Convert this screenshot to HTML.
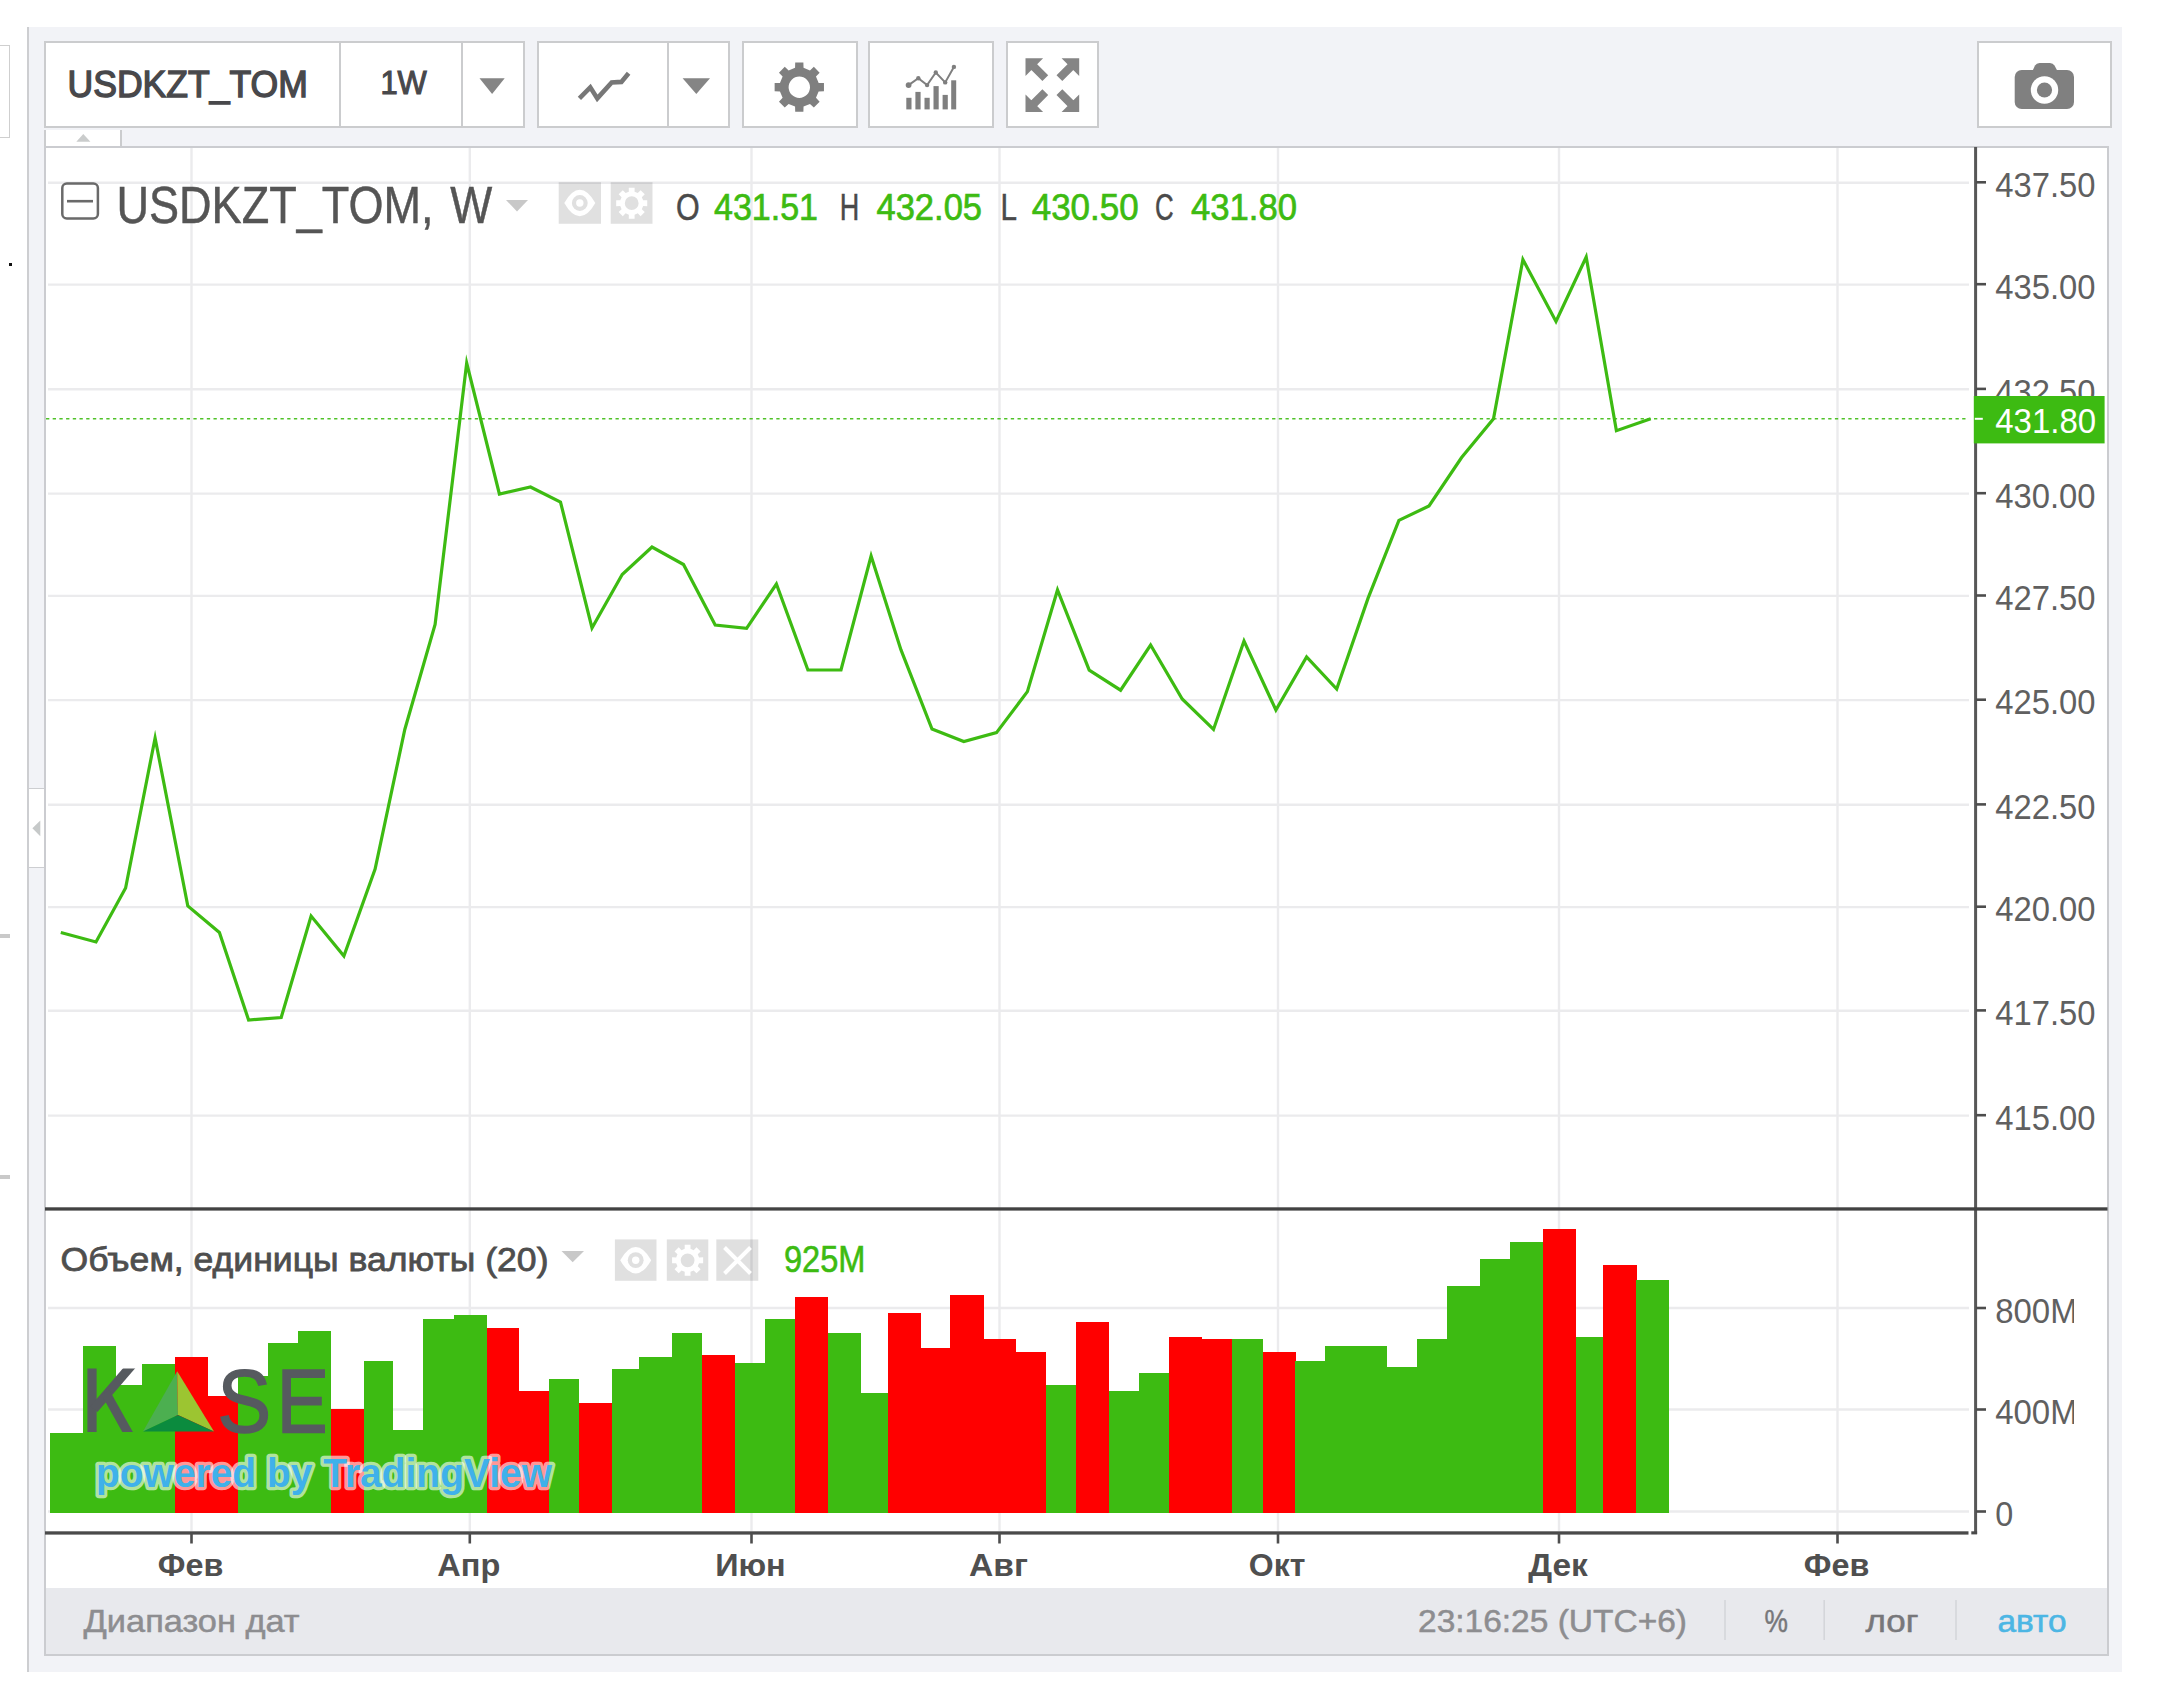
<!DOCTYPE html>
<html lang="ru">
<head>
<meta charset="utf-8">
<title>USDKZT_TOM</title>
<style>
html, body { margin:0; padding:0; background:#ffffff; }
body { width:2160px; height:1683px; position:relative; overflow:hidden; font-family:"Liberation Sans", sans-serif; }
.abs { position:absolute; box-sizing:border-box; }
.panel { left:26.5px; top:26.5px; width:2095.5px; height:1645.5px; background:#f2f3f7; border-left:2px solid #cdced1; }
.btn { top:40.5px; height:87.6px; background:#ffffff; border:2px solid #cbccce; }
.div { top:41px; width:2px; height:86px; background:#cbccce; }
.chart { left:44.3px; top:146.1px; width:2064.5px; height:1509.7px; background:#ffffff; border:2px solid #cbccd0; }
.bbar { left:46px; top:1588px; width:2061px; height:66px; background:#e8e9ed; }
svg text { font-family:"Liberation Sans", sans-serif; }
</style>
</head>
<body>
<!-- left cropped widgets -->
<div class="abs" style="left:-4px; top:44.5px; width:14.2px; height:93px; border:1.6px solid #cfcfcf; background:#fff;"></div>
<div class="abs" style="left:9px; top:262.5px; width:3px; height:3px; background:#111;"></div>
<div class="abs" style="left:0; top:934.2px; width:10.3px; height:3.6px; background:#c9c9c9;"></div>
<div class="abs" style="left:0; top:1175px; width:10.3px; height:3.6px; background:#c9c9c9;"></div>

<div class="abs panel"></div>

<!-- toolbar -->
<div class="abs btn" style="left:44.2px; width:480.9px;"></div>
<div class="abs div" style="left:339.4px;"></div>
<div class="abs div" style="left:461.3px;"></div>
<div class="abs btn" style="left:536.8px; width:193.6px;"></div>
<div class="abs div" style="left:666.6px;"></div>
<div class="abs btn" style="left:742.2px; width:115.9px;"></div>
<div class="abs btn" style="left:868.1px; width:125.6px;"></div>
<div class="abs btn" style="left:1005.6px; width:93.7px;"></div>
<div class="abs btn" style="left:1976.9px; width:135.5px;"></div>

<!-- collapse tab + side handle -->
<div class="abs" style="left:44.3px; top:130px; width:78px; height:18px; background:#fff; border-right:2px solid #cbccce; border-left:2px solid #cbccce;"></div>
<div class="abs" style="left:28.5px; top:788.2px; width:16px; height:79.8px; background:#fff; border-top:1.9px solid #cdced1; border-bottom:1.9px solid #cdced1;"></div>

<div class="abs chart"></div>
<div class="abs bbar"></div>


<svg class="abs" style="left:0; top:0;" width="2160" height="1683" viewBox="0 0 2160 1683">
<defs>
<clipPath id="volclip"><rect x="1980" y="1280" width="94" height="260"/></clipPath>
</defs>
<!-- grid -->
<g stroke="#ebebed" stroke-width="2.4" fill="none">
<line x1="191.5" y1="148" x2="191.5" y2="1531" />
<line x1="469.8" y1="148" x2="469.8" y2="1531" />
<line x1="751.5" y1="148" x2="751.5" y2="1531" />
<line x1="999.5" y1="148" x2="999.5" y2="1531" />
<line x1="1278.0" y1="148" x2="1278.0" y2="1531" />
<line x1="1559.0" y1="148" x2="1559.0" y2="1531" />
<line x1="1837.5" y1="148" x2="1837.5" y2="1531" />
<line x1="48" y1="182.7" x2="1969" y2="182.7" />
<line x1="48" y1="284.6" x2="1969" y2="284.6" />
<line x1="48" y1="389.3" x2="1969" y2="389.3" />
<line x1="48" y1="493.6" x2="1969" y2="493.6" />
<line x1="48" y1="595.9" x2="1969" y2="595.9" />
<line x1="48" y1="700.1" x2="1969" y2="700.1" />
<line x1="48" y1="804.8" x2="1969" y2="804.8" />
<line x1="48" y1="907.1" x2="1969" y2="907.1" />
<line x1="48" y1="1010.8" x2="1969" y2="1010.8" />
<line x1="48" y1="1115.6" x2="1969" y2="1115.6" />
<line x1="48" y1="1308.0" x2="1969" y2="1308.0" />
<line x1="48" y1="1409.5" x2="1969" y2="1409.5" />
<line x1="48" y1="1511.5" x2="1969" y2="1511.5" />
</g>
<!-- volume bars -->
<g shape-rendering="crispEdges">
<rect x="49.9" y="1432.8" width="33.2" height="80.4" fill="#3dbb12"/>
<rect x="82.8" y="1345.6" width="33.2" height="167.6" fill="#3dbb12"/>
<rect x="115.7" y="1384.5" width="26.8" height="128.7" fill="#3dbb12"/>
<rect x="142.2" y="1364.1" width="32.8" height="149.1" fill="#3dbb12"/>
<rect x="174.7" y="1357.1" width="33.2" height="156.1" fill="#ff0000"/>
<rect x="207.6" y="1396.4" width="30.5" height="116.8" fill="#ff0000"/>
<rect x="237.8" y="1376.0" width="30.5" height="137.2" fill="#3dbb12"/>
<rect x="268.0" y="1342.8" width="30.3" height="170.4" fill="#3dbb12"/>
<rect x="298.0" y="1331.1" width="33.2" height="182.1" fill="#3dbb12"/>
<rect x="330.9" y="1409.2" width="33.0" height="104.0" fill="#ff0000"/>
<rect x="363.6" y="1360.7" width="29.8" height="152.5" fill="#3dbb12"/>
<rect x="393.1" y="1429.5" width="30.4" height="83.7" fill="#3dbb12"/>
<rect x="423.2" y="1319.3" width="30.6" height="193.9" fill="#3dbb12"/>
<rect x="453.5" y="1315.4" width="33.3" height="197.8" fill="#3dbb12"/>
<rect x="486.5" y="1327.6" width="32.7" height="185.6" fill="#ff0000"/>
<rect x="518.9" y="1390.6" width="30.1" height="122.6" fill="#ff0000"/>
<rect x="548.7" y="1378.8" width="30.4" height="134.4" fill="#3dbb12"/>
<rect x="578.8" y="1402.8" width="33.4" height="110.4" fill="#ff0000"/>
<rect x="611.9" y="1369.1" width="27.5" height="144.1" fill="#3dbb12"/>
<rect x="639.1" y="1357.4" width="32.7" height="155.8" fill="#3dbb12"/>
<rect x="671.5" y="1333.3" width="30.9" height="179.9" fill="#3dbb12"/>
<rect x="702.1" y="1354.8" width="33.2" height="158.4" fill="#ff0000"/>
<rect x="735.0" y="1363.4" width="30.1" height="149.8" fill="#3dbb12"/>
<rect x="764.8" y="1319.0" width="30.1" height="194.2" fill="#3dbb12"/>
<rect x="794.6" y="1297.3" width="33.5" height="215.9" fill="#ff0000"/>
<rect x="827.8" y="1333.3" width="33.3" height="179.9" fill="#3dbb12"/>
<rect x="860.8" y="1393.2" width="27.5" height="120.0" fill="#3dbb12"/>
<rect x="888.0" y="1312.8" width="32.7" height="200.4" fill="#ff0000"/>
<rect x="920.4" y="1348.3" width="30.1" height="164.9" fill="#ff0000"/>
<rect x="950.2" y="1295.2" width="34.0" height="218.0" fill="#ff0000"/>
<rect x="983.9" y="1339.3" width="32.2" height="173.9" fill="#ff0000"/>
<rect x="1015.8" y="1351.7" width="30.1" height="161.5" fill="#ff0000"/>
<rect x="1045.6" y="1384.6" width="30.7" height="128.6" fill="#3dbb12"/>
<rect x="1076.0" y="1321.6" width="33.3" height="191.6" fill="#ff0000"/>
<rect x="1109.0" y="1390.7" width="30.1" height="122.5" fill="#3dbb12"/>
<rect x="1138.8" y="1373.0" width="30.5" height="140.2" fill="#3dbb12"/>
<rect x="1169.0" y="1337.1" width="33.3" height="176.1" fill="#ff0000"/>
<rect x="1202.0" y="1339.1" width="29.9" height="174.1" fill="#ff0000"/>
<rect x="1231.6" y="1339.1" width="31.7" height="174.1" fill="#3dbb12"/>
<rect x="1263.0" y="1351.5" width="32.6" height="161.7" fill="#ff0000"/>
<rect x="1295.3" y="1360.6" width="29.5" height="152.6" fill="#3dbb12"/>
<rect x="1324.5" y="1345.7" width="31.3" height="167.5" fill="#3dbb12"/>
<rect x="1355.5" y="1345.7" width="31.9" height="167.5" fill="#3dbb12"/>
<rect x="1387.1" y="1367.0" width="30.5" height="146.2" fill="#3dbb12"/>
<rect x="1417.3" y="1339.1" width="30.4" height="174.1" fill="#3dbb12"/>
<rect x="1447.4" y="1286.0" width="32.7" height="227.2" fill="#3dbb12"/>
<rect x="1479.8" y="1259.3" width="30.2" height="253.9" fill="#3dbb12"/>
<rect x="1509.7" y="1241.5" width="33.3" height="271.7" fill="#3dbb12"/>
<rect x="1542.7" y="1229.2" width="33.6" height="284.0" fill="#ff0000"/>
<rect x="1576.0" y="1337.1" width="27.3" height="176.1" fill="#3dbb12"/>
<rect x="1603.0" y="1265.3" width="33.6" height="247.9" fill="#ff0000"/>
<rect x="1636.3" y="1279.7" width="32.5" height="233.5" fill="#3dbb12"/>
</g>
<!-- last price line -->
<line x1="46" y1="418.7" x2="1968" y2="418.7" stroke="#3dbb12" stroke-width="1.4" stroke-dasharray="3.3 3.4" stroke-opacity="0.9"/>
<!-- series -->
<polyline points="60.8,932.5 96.0,942.0 125.6,888.0 155.1,738.0 187.8,906.0 219.4,932.5 248.6,1020.0 281.2,1017.5 311.1,916.0 343.9,956.0 375.1,869.0 404.8,729.5 435.1,624.5 466.7,363.0 499.4,494.0 530.5,487.0 560.5,502.0 592.0,628.0 622.2,574.5 652.0,547.0 683.5,564.5 715.2,625.0 746.6,628.3 776.4,584.0 807.9,670.0 841.0,670.0 871.1,556.0 900.9,649.7 932.0,729.0 963.8,741.5 996.5,732.6 1027.4,691.6 1057.5,590.0 1089.2,670.2 1120.6,690.2 1150.6,645.0 1182.2,699.0 1213.5,729.4 1244.0,641.0 1275.9,710.0 1306.6,657.0 1336.7,689.0 1368.0,598.4 1398.9,520.3 1429.0,506.0 1461.6,457.5 1493.5,418.7 1522.9,259.5 1556.0,321.5 1586.2,257.0 1616.4,430.7 1650.7,418.7" fill="none" stroke="#3dbb12" stroke-width="3.2" stroke-linejoin="miter" stroke-miterlimit="10"/>

<!-- axes -->
<rect x="1974.1" y="147" width="3.0" height="1387" fill="#575757"/>
<rect x="45" y="1207.3" width="2062.5" height="3.3" fill="#424242"/>
<rect x="45" y="1531.3" width="1923.5" height="3.3" fill="#4a4a4a"/>
<rect x="1971.3" y="1531.3" width="5.8" height="3.1" fill="#4a4a4a"/>
<g stroke="#4d4d4d" stroke-width="2.6">
<line x1="1976" y1="182.3" x2="1986" y2="182.3"/>
<line x1="1976" y1="284.2" x2="1986" y2="284.2"/>
<line x1="1976" y1="388.9" x2="1986" y2="388.9"/>
<line x1="1976" y1="493.2" x2="1986" y2="493.2"/>
<line x1="1976" y1="595.5" x2="1986" y2="595.5"/>
<line x1="1976" y1="699.7" x2="1986" y2="699.7"/>
<line x1="1976" y1="804.4" x2="1986" y2="804.4"/>
<line x1="1976" y1="906.7" x2="1986" y2="906.7"/>
<line x1="1976" y1="1010.4" x2="1986" y2="1010.4"/>
<line x1="1976" y1="1115.2" x2="1986" y2="1115.2"/>
<line x1="1976" y1="1308.0" x2="1986" y2="1308.0"/>
<line x1="1976" y1="1409.5" x2="1986" y2="1409.5"/>
<line x1="1976" y1="1511.5" x2="1986" y2="1511.5"/>
<line x1="191.5" y1="1533" x2="191.5" y2="1543.5"/>
<line x1="469.8" y1="1533" x2="469.8" y2="1543.5"/>
<line x1="751.5" y1="1533" x2="751.5" y2="1543.5"/>
<line x1="999.5" y1="1533" x2="999.5" y2="1543.5"/>
<line x1="1278.0" y1="1533" x2="1278.0" y2="1543.5"/>
<line x1="1559.0" y1="1533" x2="1559.0" y2="1543.5"/>
<line x1="1837.5" y1="1533" x2="1837.5" y2="1543.5"/>
</g>

<!-- texts -->
<text x="67.6" y="97.2" font-size="37.3" fill="#48484b" font-weight="normal" textLength="240.2" lengthAdjust="spacingAndGlyphs" stroke="#48484b" stroke-width="1.4">USDKZT_TOM</text>
<text x="380.4" y="93.8" font-size="32.5" fill="#48484b" font-weight="normal" textLength="46.4" lengthAdjust="spacingAndGlyphs" stroke="#48484b" stroke-width="1.1">1W</text>
<text x="116.5" y="223.2" font-size="52" fill="#555555" font-weight="normal" textLength="317.0" lengthAdjust="spacingAndGlyphs" stroke="#555555" stroke-width="0.5">USDKZT_TOM,</text>
<text x="450.3" y="223.2" font-size="52" fill="#555555" font-weight="normal" textLength="42.0" lengthAdjust="spacingAndGlyphs" stroke="#555555" stroke-width="0.5">W</text>
<text x="676.0" y="219.6" font-size="36.5" fill="#4a4a4a" font-weight="normal" textLength="23.7" lengthAdjust="spacingAndGlyphs" stroke="#4a4a4a" stroke-width="0.5">O</text>
<text x="714.0" y="219.6" font-size="36.5" fill="#3dbb12" font-weight="normal" textLength="104.0" lengthAdjust="spacingAndGlyphs" stroke="#3dbb12" stroke-width="0.7">431.51</text>
<text x="839.7" y="219.6" font-size="36.5" fill="#4a4a4a" font-weight="normal" textLength="19.5" lengthAdjust="spacingAndGlyphs" stroke="#4a4a4a" stroke-width="0.5">H</text>
<text x="876.5" y="219.6" font-size="36.5" fill="#3dbb12" font-weight="normal" textLength="105.5" lengthAdjust="spacingAndGlyphs" stroke="#3dbb12" stroke-width="0.7">432.05</text>
<text x="1000.5" y="219.6" font-size="36.5" fill="#4a4a4a" font-weight="normal" textLength="16.5" lengthAdjust="spacingAndGlyphs" stroke="#4a4a4a" stroke-width="0.5">L</text>
<text x="1031.7" y="219.6" font-size="36.5" fill="#3dbb12" font-weight="normal" textLength="107.0" lengthAdjust="spacingAndGlyphs" stroke="#3dbb12" stroke-width="0.7">430.50</text>
<text x="1155.0" y="219.6" font-size="36.5" fill="#4a4a4a" font-weight="normal" textLength="18.6" lengthAdjust="spacingAndGlyphs" stroke="#4a4a4a" stroke-width="0.5">C</text>
<text x="1191.0" y="219.6" font-size="36.5" fill="#3dbb12" font-weight="normal" textLength="106.0" lengthAdjust="spacingAndGlyphs" stroke="#3dbb12" stroke-width="0.7">431.80</text>
<text x="1995.2" y="197.0" font-size="35" fill="#606060" font-weight="normal" textLength="100.3" lengthAdjust="spacingAndGlyphs">437.50</text>
<text x="1995.2" y="298.9" font-size="35" fill="#606060" font-weight="normal" textLength="100.3" lengthAdjust="spacingAndGlyphs">435.00</text>
<text x="1995.2" y="403.6" font-size="35" fill="#606060" font-weight="normal" textLength="100.3" lengthAdjust="spacingAndGlyphs">432.50</text>
<text x="1995.2" y="507.9" font-size="35" fill="#606060" font-weight="normal" textLength="100.3" lengthAdjust="spacingAndGlyphs">430.00</text>
<text x="1995.2" y="610.2" font-size="35" fill="#606060" font-weight="normal" textLength="100.3" lengthAdjust="spacingAndGlyphs">427.50</text>
<text x="1995.2" y="714.4" font-size="35" fill="#606060" font-weight="normal" textLength="100.3" lengthAdjust="spacingAndGlyphs">425.00</text>
<text x="1995.2" y="819.1" font-size="35" fill="#606060" font-weight="normal" textLength="100.3" lengthAdjust="spacingAndGlyphs">422.50</text>
<text x="1995.2" y="921.4" font-size="35" fill="#606060" font-weight="normal" textLength="100.3" lengthAdjust="spacingAndGlyphs">420.00</text>
<text x="1995.2" y="1025.1" font-size="35" fill="#606060" font-weight="normal" textLength="100.3" lengthAdjust="spacingAndGlyphs">417.50</text>
<text x="1995.2" y="1129.9" font-size="35" fill="#606060" font-weight="normal" textLength="100.3" lengthAdjust="spacingAndGlyphs">415.00</text>
<text x="60.5" y="1270.9" font-size="34" fill="#4e4e4e" font-weight="normal" textLength="488.0" lengthAdjust="spacingAndGlyphs" stroke="#4e4e4e" stroke-width="0.8">Объем, единицы валюты (20)</text>
<text x="784.0" y="1272.3" font-size="36.5" fill="#3dbb12" font-weight="normal" textLength="81.5" lengthAdjust="spacingAndGlyphs" stroke="#3dbb12" stroke-width="0.6">925M</text>
<text x="157.8" y="1575.5" font-size="31" fill="#4f4f4f" font-weight="bold" textLength="65.5" lengthAdjust="spacingAndGlyphs">Фев</text>
<text x="437.3" y="1575.5" font-size="31" fill="#4f4f4f" font-weight="bold" textLength="63.0" lengthAdjust="spacingAndGlyphs">Апр</text>
<text x="715.2" y="1575.5" font-size="31" fill="#4f4f4f" font-weight="bold" textLength="70.5" lengthAdjust="spacingAndGlyphs">Июн</text>
<text x="969.0" y="1575.5" font-size="31" fill="#4f4f4f" font-weight="bold" textLength="59.0" lengthAdjust="spacingAndGlyphs">Авг</text>
<text x="1248.8" y="1575.5" font-size="31" fill="#4f4f4f" font-weight="bold" textLength="56.5" lengthAdjust="spacingAndGlyphs">Окт</text>
<text x="1528.2" y="1575.5" font-size="31" fill="#4f4f4f" font-weight="bold" textLength="59.6" lengthAdjust="spacingAndGlyphs">Дек</text>
<text x="1803.8" y="1575.5" font-size="31" fill="#4f4f4f" font-weight="bold" textLength="65.5" lengthAdjust="spacingAndGlyphs">Фев</text>
<text x="83.6" y="1632.0" font-size="32" fill="#8d8d90" font-weight="normal" textLength="216.0" lengthAdjust="spacingAndGlyphs" stroke="#8d8d90" stroke-width="0.5">Диапазон дат</text>
<text x="1418.0" y="1632.0" font-size="32" fill="#8d8d90" font-weight="normal" textLength="269.0" lengthAdjust="spacingAndGlyphs" stroke="#8d8d90" stroke-width="0.5">23:16:25 (UTC+6)</text>
<text x="1764.6" y="1632.0" font-size="32" fill="#77777a" font-weight="normal" textLength="23.4" lengthAdjust="spacingAndGlyphs" stroke="#77777a" stroke-width="0.5">%</text>
<text x="1865.5" y="1632.0" font-size="32" fill="#77777a" font-weight="normal" textLength="53.0" lengthAdjust="spacingAndGlyphs" stroke="#77777a" stroke-width="0.5">лог</text>
<text x="1997.5" y="1632.0" font-size="32" fill="#4cb6e4" font-weight="normal" textLength="69.0" lengthAdjust="spacingAndGlyphs" stroke="#4cb6e4" stroke-width="0.6">авто</text>
<g clip-path="url(#volclip)">
<text x="1995.2" y="1322.5" font-size="35" fill="#606060" font-weight="normal" textLength="82.5" lengthAdjust="spacingAndGlyphs">800M</text>
<text x="1995.2" y="1424.0" font-size="35" fill="#606060" font-weight="normal" textLength="82.5" lengthAdjust="spacingAndGlyphs">400M</text>
<text x="1995.2" y="1526.0" font-size="35" fill="#606060" font-weight="normal" textLength="18.0" lengthAdjust="spacingAndGlyphs">0</text>
</g>

<!-- price label -->
<rect x="1973.8" y="396" width="130.8" height="47.4" fill="#3dbb12"/>
<line x1="1974.8" y1="418.8" x2="1982.8" y2="418.8" stroke="#ffffff" stroke-width="2"/>
<text x="1995.2" y="432.6" font-size="35" fill="#ffffff" font-weight="normal" textLength="101.0" lengthAdjust="spacingAndGlyphs">431.80</text>


<!-- toolbar icons -->
<path d="M479.5,78.3 L504.7,78.3 L492.1,94 Z" fill="#858585"/>
<path d="M682.6,78.3 L710,78.3 L696.3,94 Z" fill="#858585"/>
<polyline points="579.4,98.3 590.3,87.3 597.3,98.4 611.7,82.4 621.4,81.9 628.6,73.2" fill="none" stroke="#777777" stroke-width="4.6" stroke-linejoin="miter"/>
<path d="M818.64,82.96 L823.96,83.11 L823.96,91.29 L818.64,91.44 L815.98,97.87 L819.63,101.75 L813.85,107.53 L809.97,103.88 L803.54,106.54 L803.39,111.86 L795.21,111.86 L795.06,106.54 L788.63,103.88 L784.75,107.53 L778.97,101.75 L782.62,97.87 L779.96,91.44 L774.64,91.29 L774.64,83.11 L779.96,82.96 L782.62,76.53 L778.97,72.65 L784.75,66.87 L788.63,70.52 L795.06,67.86 L795.21,62.54 L803.39,62.54 L803.54,67.86 L809.97,70.52 L813.85,66.87 L819.63,72.65 L815.98,76.53Z M810.00,87.20 A10.7,10.7 0 1,0 788.60,87.20 A10.7,10.7 0 1,0 810.00,87.20Z" fill="#7f7f7f" fill-rule="evenodd"/>
<!-- indicators icon -->
<g fill="#7f7f7f">
<rect x="906.3" y="97.8" width="5.2" height="11.6"/>
<rect x="915.4" y="91.9" width="5.2" height="17.5"/>
<rect x="924.5" y="97.8" width="5.2" height="11.6"/>
<rect x="933.5" y="86.1" width="5.2" height="23.3"/>
<rect x="942.6" y="94.9" width="5.2" height="14.5"/>
<rect x="951.2" y="80.3" width="5.0" height="29.1"/>
<circle cx="908.6" cy="85.1" r="2.9"/><circle cx="918.3" cy="78.3" r="2.2"/><circle cx="927.1" cy="85.1" r="2.2"/>
<circle cx="935.8" cy="72.5" r="2.2"/><circle cx="945.2" cy="82.4" r="2.2"/><circle cx="953.9" cy="66.9" r="2.2"/>
</g>
<polyline points="908.6,85.1 918.3,78.3 927.1,85.1 935.8,72.5 945.2,82.4 953.9,66.9" fill="none" stroke="#7f7f7f" stroke-width="2.0"/>
<!-- fullscreen -->
<path d="M1025.5,58.3 L1043.1,58.3 L1025.5,75.9Z M1034.4,61.4 L1048.2,75.2 L1042.4,81.0 L1028.6,67.2Z M1079.2,58.3 L1061.6000000000001,58.3 L1079.2,75.9Z M1070.3,61.4 L1056.5,75.2 L1062.3,81.0 L1076.1,67.2Z M1025.5,112.0 L1043.1,112.0 L1025.5,94.4Z M1034.4,108.9 L1048.2,95.1 L1042.4,89.3 L1028.6,103.1Z M1079.2,112.0 L1061.6000000000001,112.0 L1079.2,94.4Z M1070.3,108.9 L1056.5,95.1 L1062.3,89.3 L1076.1,103.1Z" fill="#858585"/>
<!-- camera -->
<g fill="#808080">
<rect x="2014.7" y="70" width="59.3" height="39" rx="7" ry="7"/>
<path d="M2031,74 L2035,65.5 Q2036.5,63 2039.5,63 L2050,63 Q2053,63 2054.5,65.5 L2059,74 Z"/>
</g>
<circle cx="2044.5" cy="90" r="13.7" fill="#ffffff"/>
<circle cx="2044.5" cy="90" r="7.6" fill="#808080"/>

<!-- tab arrow + handle arrow -->
<path d="M76.3,141.8 L90.4,141.8 L83.3,133.9 Z" fill="#cacccc"/>
<path d="M40.3,820.4 L40.3,836.2 L32.4,828.3 Z" fill="#c6c9c9"/>

<!-- legend icons (main) -->
<rect x="62.3" y="183.6" width="35.6" height="34.8" rx="4.5" ry="4.5" fill="none" stroke="#6a6a6a" stroke-width="2.5"/>
<line x1="67" y1="201.2" x2="93" y2="201.2" stroke="#6a6a6a" stroke-width="2.6"/>
<path d="M506,200 L528,200 L517,211.5 Z" fill="#c8c8c8"/>
<rect x="558.7" y="182.2" width="42.3" height="41.6" fill="#000000" fill-opacity="0.122"/>
<rect x="610.7" y="182.2" width="41.8" height="41.6" fill="#000000" fill-opacity="0.122"/>
<path d="M564.3,203.0 Q571.74,189.8 579.8,189.8 Q587.8599999999999,189.8 595.3,203.0 Q587.8599999999999,216.2 579.8,216.2 Q571.74,216.2 564.3,203.0 Z" fill="#ffffff"/><circle cx="579.8" cy="203.0" r="7.9" fill="#e0e0e0"/><circle cx="579.8" cy="203.0" r="3.7" fill="#ffffff"/>
<path d="M643.15,200.33 L647.23,200.27 L647.23,206.13 L643.15,206.07 L641.82,209.27 L644.75,212.11 L640.61,216.25 L637.77,213.32 L634.57,214.65 L634.63,218.73 L628.77,218.73 L628.83,214.65 L625.63,213.32 L622.79,216.25 L618.65,212.11 L621.58,209.27 L620.25,206.07 L616.17,206.13 L616.17,200.27 L620.25,200.33 L621.58,197.13 L618.65,194.29 L622.79,190.15 L625.63,193.08 L628.83,191.75 L628.77,187.67 L634.63,187.67 L634.57,191.75 L637.77,193.08 L640.61,190.15 L644.75,194.29 L641.82,197.13Z M638.60,203.20 A6.9,6.9 0 1,0 624.80,203.20 A6.9,6.9 0 1,0 638.60,203.20Z" fill="#ffffff" fill-rule="evenodd"/>

<!-- legend icons (volume) -->
<path d="M561.5,1251 L584,1251 L572.7,1262.3 Z" fill="#c8c8c8"/>
<rect x="614.9" y="1239.4" width="41.6" height="41.4" fill="#000000" fill-opacity="0.122"/>
<rect x="666.8" y="1239.4" width="41.5" height="41.4" fill="#000000" fill-opacity="0.122"/>
<rect x="716.3" y="1239.4" width="42" height="41.4" fill="#000000" fill-opacity="0.122"/>
<path d="M620.2,1260.2 Q627.6400000000001,1247.0 635.7,1247.0 Q643.76,1247.0 651.2,1260.2 Q643.76,1273.4 635.7,1273.4 Q627.6400000000001,1273.4 620.2,1260.2 Z" fill="#ffffff"/><circle cx="635.7" cy="1260.2" r="7.9" fill="#e0e0e0"/><circle cx="635.7" cy="1260.2" r="3.7" fill="#ffffff"/>
<path d="M699.05,1257.43 L703.13,1257.37 L703.13,1263.23 L699.05,1263.17 L697.72,1266.37 L700.65,1269.21 L696.51,1273.35 L693.67,1270.42 L690.47,1271.75 L690.53,1275.83 L684.67,1275.83 L684.73,1271.75 L681.53,1270.42 L678.69,1273.35 L674.55,1269.21 L677.48,1266.37 L676.15,1263.17 L672.07,1263.23 L672.07,1257.37 L676.15,1257.43 L677.48,1254.23 L674.55,1251.39 L678.69,1247.25 L681.53,1250.18 L684.73,1248.85 L684.67,1244.77 L690.53,1244.77 L690.47,1248.85 L693.67,1250.18 L696.51,1247.25 L700.65,1251.39 L697.72,1254.23Z M694.50,1260.30 A6.9,6.9 0 1,0 680.70,1260.30 A6.9,6.9 0 1,0 694.50,1260.30Z" fill="#ffffff" fill-rule="evenodd"/>
<path d="M724.5,1247.5 L750.5,1273.5 M750.5,1247.5 L724.5,1273.5" stroke="#ffffff" stroke-width="4" fill="none"/>

<!-- separators in bottom bar -->
<g stroke="#d4d6da" stroke-width="1.6">
<line x1="1725" y1="1600" x2="1725" y2="1640"/>
<line x1="1824.2" y1="1600" x2="1824.2" y2="1640"/>
<line x1="1956" y1="1600" x2="1956" y2="1640"/>
</g>

<!-- KASE watermark -->
<g>
<clipPath id="kclip"><rect x="86" y="1368.5" width="52" height="63.5"/></clipPath>
<g clip-path="url(#kclip)" stroke="#565a5f" stroke-width="9.2" fill="none">
<line x1="92" y1="1360" x2="92" y2="1440"/>
<line x1="94" y1="1409" x2="134.5" y2="1362"/>
<line x1="105.5" y1="1392.5" x2="131.5" y2="1439"/>
</g>
<text x="217.3" y="1432.3" font-size="89" fill="#565a5f" stroke="#565a5f" stroke-width="1.4" textLength="54" lengthAdjust="spacingAndGlyphs">S</text>
<path d="M282.3,1369.2 H325 V1378 H291 V1396.8 H321.8 V1405.4 H291 V1424.6 H325 V1433.2 H282.3 Z" fill="#565a5f"/>
<path d="M177.2,1371.2 L143,1431.4 L178,1415 Z" fill="#4caf50"/>
<path d="M177.2,1371.2 L214,1431.4 L178,1415 Z" fill="#9cc531"/>
<path d="M143,1431.4 L214,1431.4 L178,1415 Z" fill="#0b8b3e"/>
</g>
<text x="96" y="1487" font-size="40" font-weight="bold" fill="none" stroke="#ffffff" stroke-opacity="0.62" stroke-width="6.6" stroke-linejoin="round" textLength="456" lengthAdjust="spacingAndGlyphs">powered by TradingView</text>
<text x="96" y="1487" font-size="40" font-weight="bold" fill="#3fb1ea" textLength="456" lengthAdjust="spacingAndGlyphs">powered by TradingView</text>
</svg>
</body>
</html>
